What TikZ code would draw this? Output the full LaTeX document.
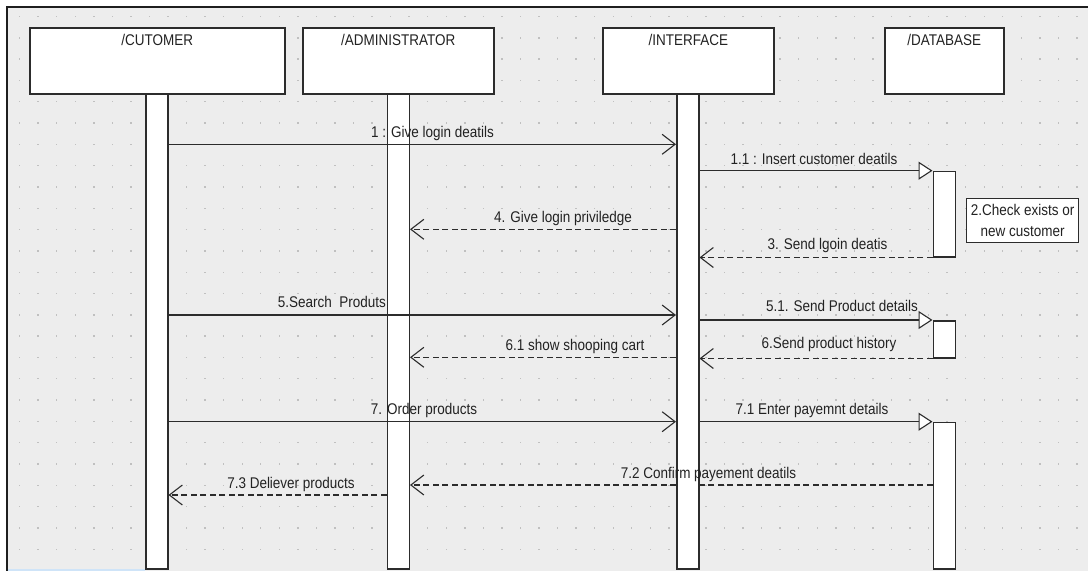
\documentclass[tikz,border=0pt]{standalone}
\usepackage{fontspec}
\setmainfont{Liberation Sans}[FakeStretch=0.87]
\usetikzlibrary{arrows.meta}
\definecolor{canvas}{HTML}{EDEDED}
\definecolor{griddot}{HTML}{C0C0C0}
\definecolor{ink}{HTML}{222222}
\definecolor{linecol}{HTML}{2C2C2C}
\definecolor{framecol}{HTML}{1E1E1E}
\definecolor{selblue}{HTML}{CFE4F8}
\pgfdeclarelayer{back}
\pgfdeclarelayer{wires}
\pgfsetlayers{back,wires,main}

\begin{document}
\begin{tikzpicture}[x=1pt,y=-1pt,
  every node/.style={font=\fontsize{15.5}{18}\selectfont, text=ink},
  headbox/.style={draw=linecol, line width=1.6pt, fill=white, rectangle,
    inner sep=0pt, anchor=north west, minimum height=66pt},
  actbar/.style={draw=linecol, line width=1.5pt, fill=white, rectangle,
    inner sep=0pt, anchor=north west, minimum width=22pt},
  headtext/.style={inner sep=0pt, anchor=base},
  msglabel/.style={inner sep=0pt, anchor=base},
  syncmsg/.style={draw=linecol, line width=1.1pt,
    -{Straight Barb[length=13pt,width=20pt]}},
  asyncmsg/.style={draw=linecol, line width=1.1pt,
    -{Triangle[open,length=14pt,width=18pt,fill=white]}},
  replymsg/.style={draw=linecol, line width=1.1pt, dash pattern=on 6pt off 3.5pt,
    -{Straight Barb[length=13pt,width=20pt]}},
  notebox/.style={draw=linecol, line width=1.2pt, fill=white, inner sep=0pt,
    anchor=north west, minimum width=112pt, minimum height=44pt,
    align=center, font=\fontsize{15.5}{20.5}\selectfont}
]
\useasboundingbox (0,0) rectangle (1088,571);

% canvas, dotted grid and frame
\begin{pgfonlayer}{back}
  \fill[white] (0,0) rectangle (1088,571);
  \fill[canvas] (7,7) rectangle (1088,571);
  \foreach \j in {0,...,25}{
    \foreach \k in {-2,...,55}{
      \fill[griddot] ({56.7+\k*18.55-0.7},{16.5+\j*21.31-0.7}) rectangle +(1.4,1.4);
    }
  }
  \draw[framecol, line width=2pt] (1088,7) -- (7,7) -- (7,571);
  \draw[selblue, line width=2pt] (8,570) -- (145,570);
\end{pgfonlayer}

% participant heads
\node[headbox, minimum width=255pt] (custbox) at (29,27) {};
\node[headbox, minimum width=191pt] (admbox) at (302,27) {};
\node[headbox, minimum width=171pt] (ifcbox) at (602,27) {};
\node[headbox, minimum width=119pt] (dbbox) at (884,27) {};
\node[headtext] (custname) at (custbox.center |- 0,45.7) {/CUTOMER};
\node[headtext] (admname) at (admbox.center |- 0,45.7) {/ADMINISTRATOR};
\node[headtext] (ifcname) at (ifcbox.center |- 0,45.7) {/INTERFACE};
\node[headtext] (dbname) at (dbbox.center |- 0,45.7) {/DATABASE};

% activation bars
\node[actbar, minimum height=475pt] (custbar) at (145,93) {};
\node[actbar, minimum height=475pt] (admbar) at (386.5,93) {};
\node[actbar, minimum height=475pt] (ifcbar) at (676,93) {};
\node[actbar, minimum height=85.3pt] (dbbarA) at (932.5,170.7) {};
\node[actbar, minimum height=37pt] (dbbarB) at (932.5,320) {};
\node[actbar, minimum height=146.3pt] (dbbarC) at (932.5,421.7) {};

% note
\node[notebox] (checknote) at (966,198) {2.Check exists or\\new customer};

% messages
\draw[syncmsg] (custbar.east |- 0,144.3) -- (ifcbar.west |- 0,144.3);
\draw[asyncmsg] (ifcbar.east |- 0,170.7) -- (dbbarA.north west);
\draw[replymsg] (dbbarA.south west) -- (ifcbar.east |- dbbarA.south west);
\draw[replymsg] (ifcbar.west |- 0,229.3) -- (admbar.east |- 0,229.3);
\draw[syncmsg] (custbar.east |- 0,315) -- (ifcbar.west |- 0,315);
\draw[asyncmsg] (ifcbar.east |- dbbarB.north west) -- (dbbarB.north west);
\draw[replymsg] (dbbarB.south west) -- (ifcbar.east |- dbbarB.south west);
\draw[replymsg] (ifcbar.west |- 0,357.3) -- (admbar.east |- 0,357.3);
\draw[syncmsg] (custbar.east |- 0,421.7) -- (ifcbar.west |- 0,421.7);
\draw[asyncmsg] (ifcbar.east |- dbbarC.north west) -- (dbbarC.north west);
\begin{pgfonlayer}{wires}
  \draw[replymsg] (dbbarC.west |- 0,485) -- (admbar.east |- 0,485);
\end{pgfonlayer}
\draw[replymsg] (admbar.west |- 0,495) -- (custbar.east |- 0,495);

% message labels
\node[msglabel] (lab1) at (432.5,137.3) {1 : Give login deatils};
\node[msglabel] (lab11) at (814,164) {1.1 : Insert customer deatils};
\node[msglabel] (lab3) at (827.5,249.3) {3. Send lgoin deatis};
\node[msglabel] (lab4) at (563,222.7) {4. Give login priviledge};
\node[msglabel] (lab5) at (331.8,307.3) {5.Search\ \ Produts};
\node[msglabel] (lab51) at (842,311.7) {5.1. Send Product details};
\node[msglabel] (lab6) at (829,348.3) {6.Send product history};
\node[msglabel] (lab61) at (575,350.7) {6.1 show shooping cart};
\node[msglabel] (lab7) at (424,414.3) {7. Order products};
\node[msglabel] (lab71) at (812,414.3) {7.1 Enter payemnt details};
\node[msglabel] (lab72) at (708.5,478.7) {7.2 Confirm payement deatils};
\node[msglabel] (lab73) at (291,488) {7.3 Deliever products};
\end{tikzpicture}
\end{document}
